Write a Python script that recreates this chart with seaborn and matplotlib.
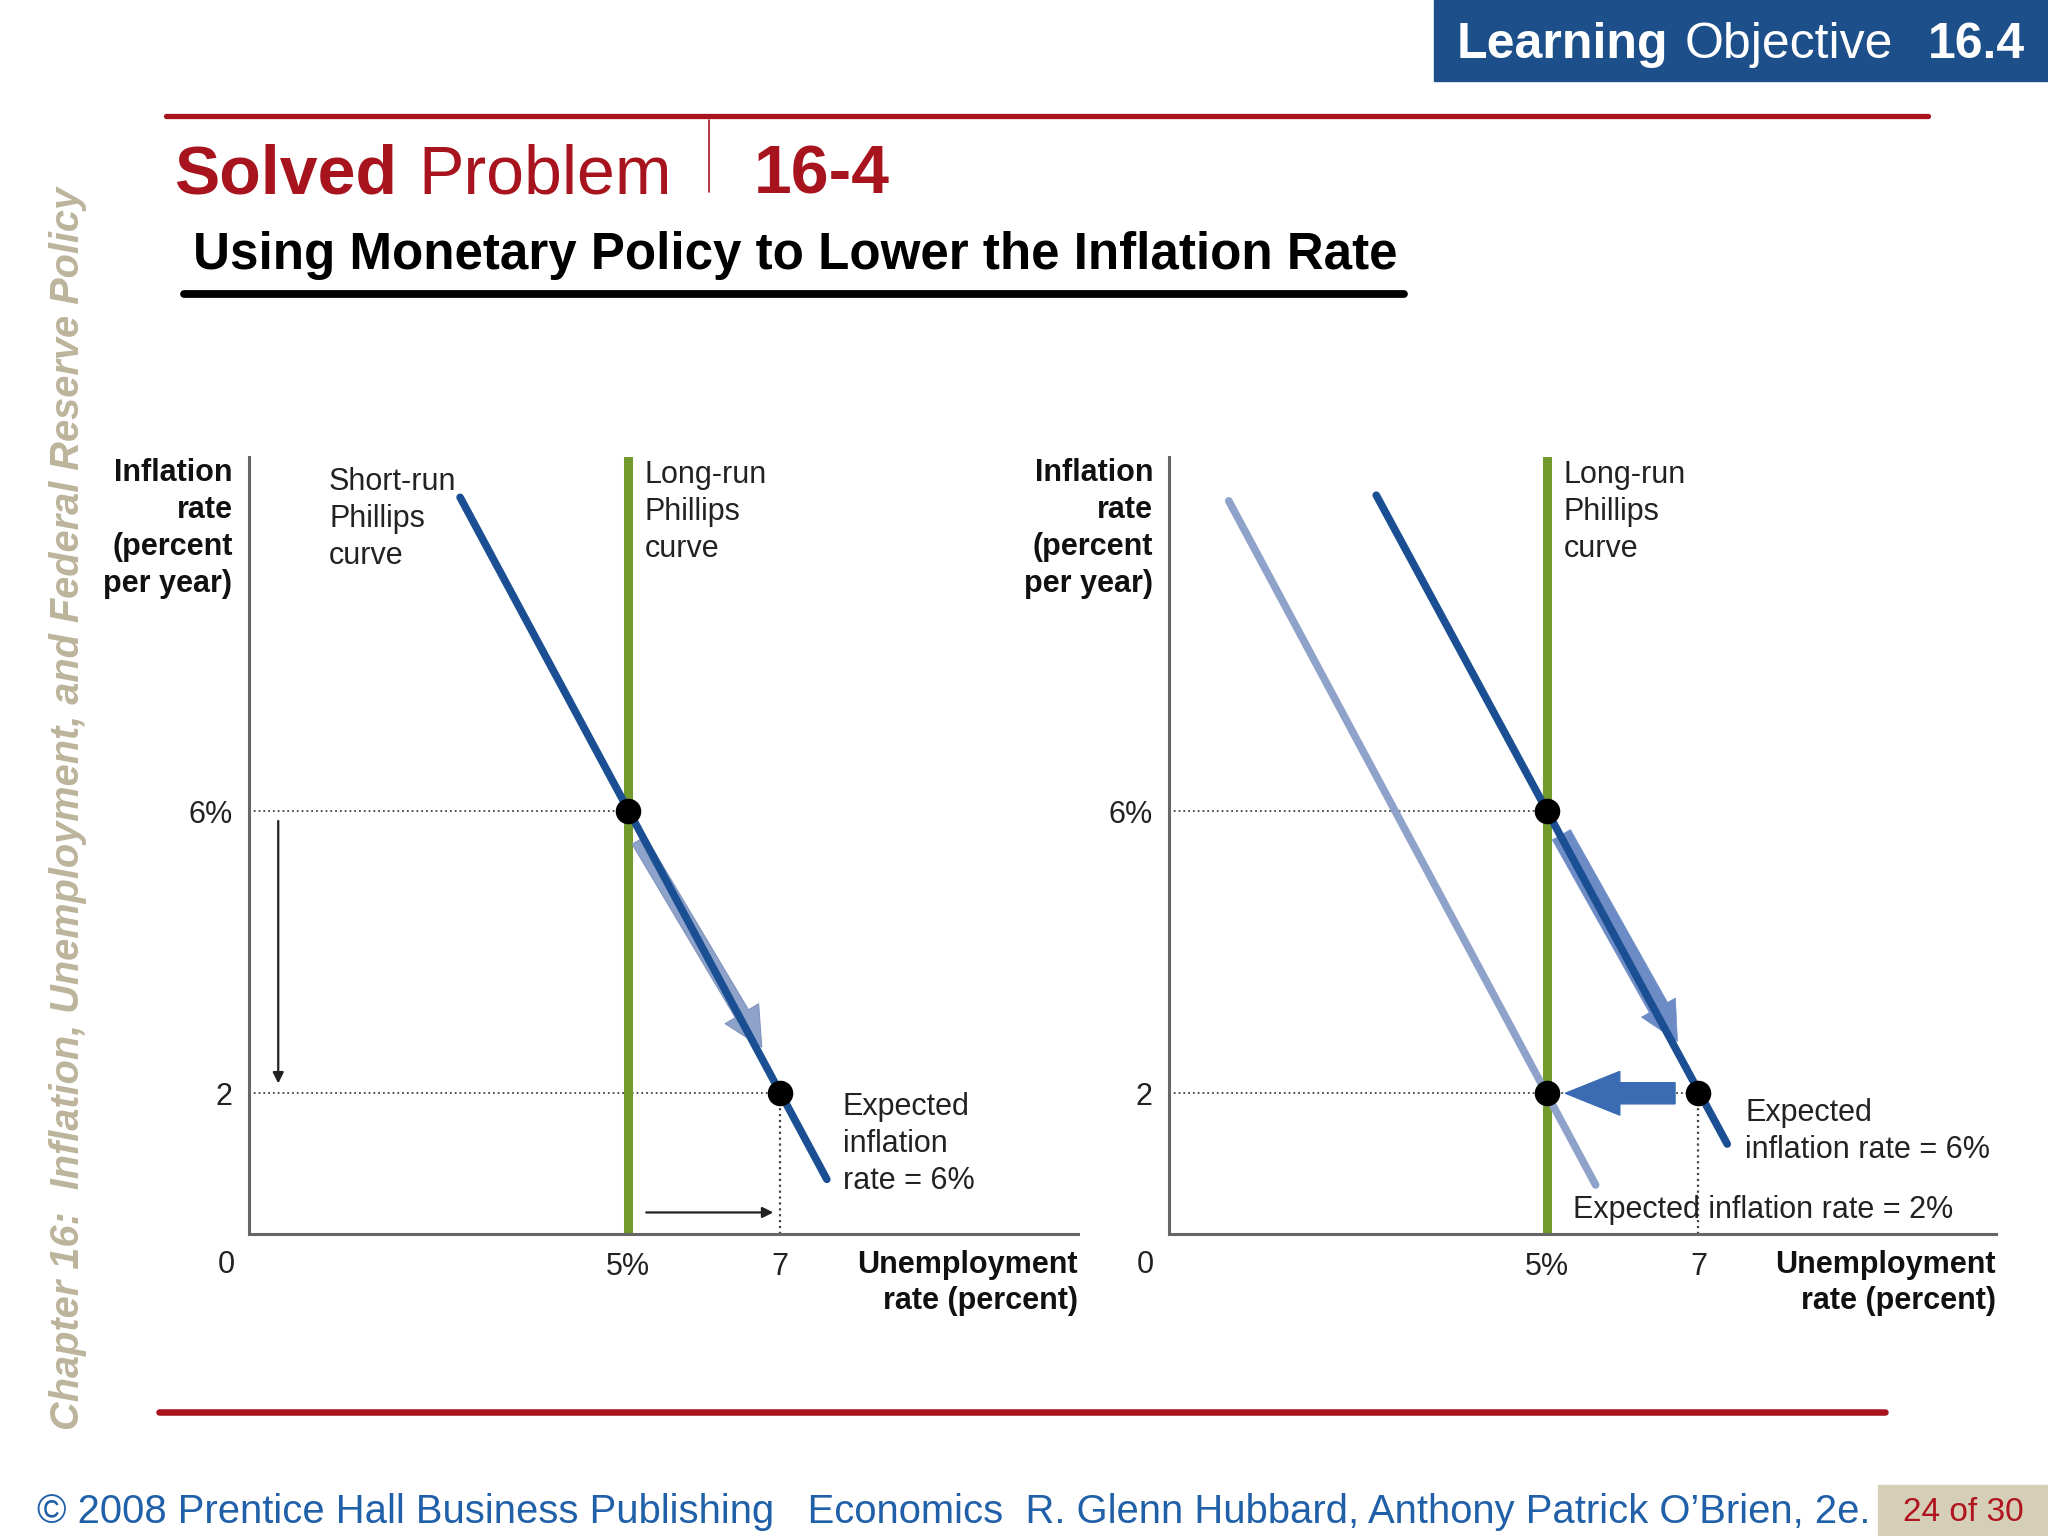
import numpy as np
import pandas as pd
import seaborn as sns
import matplotlib.pyplot as plt
from matplotlib.patches import FancyArrow, Rectangle

sns.set_style("white")
plt.rcParams['font.family'] = ['Liberation Sans', 'DejaVu Sans']

# ---- data (unemployment %, inflation %) ----
srpc6_left_u = [2.78, 7.62]        # short-run curve, expected inflation 6%
srpc6_left_pi = [10.45, 0.78]
srpc6_right_u = [2.74, 7.38]
srpc6_right_pi = [10.48, 1.28]
srpc2_u = [0.79, 5.64]             # short-run curve, expected inflation 2%
srpc2_pi = [10.40, 0.70]
lrpc_u = 5                         # natural rate
left_pts_u = [5, 7]
left_pts_pi = [6, 2]
right_pts_u = [5, 7, 5]
right_pts_pi = [6, 2, 2]
x_ticks = [5, 7]
x_ticklabels = ["5%", "7"]
y_ticks = [2, 6]
y_ticklabels = ["2", "6%"]

DARK = "#1b4f93"
LIGHT = "#8fa3ca"
GREEN = "#739a2c"
AXC = "#666666"
FS = 22
LS = 1.3

fig = plt.figure(figsize=(20.48, 15.36), dpi=100)

def panel(rect):
    ax = fig.add_axes(rect)
    ax.set_xlim(0, 10.93)
    ax.set_ylim(0, 11.02)
    for s in ["top", "right"]:
        ax.spines[s].set_visible(False)
    for s in ["left", "bottom"]:
        ax.spines[s].set_color(AXC)
        ax.spines[s].set_linewidth(2.2)
    ax.set_xticks(x_ticks, x_ticklabels)
    ax.set_yticks(y_ticks, y_ticklabels)
    ax.tick_params(length=0, labelsize=FS, colors="#222222")
    ax.tick_params(axis="x", pad=13)
    ax.tick_params(axis="y", pad=12)
    ax.text(-0.31, -0.43, "0", fontsize=FS, ha="center", va="center",
            color="#222222", clip_on=False)
    ax.axvline(lrpc_u, color=GREEN, lw=6.5, zorder=2)
    # dotted guides
    ax.plot([0, 5], [6, 6], ls=":", color="#444444", lw=1.3, zorder=1)
    ax.plot([0, 7], [2, 2], ls=":", color="#444444", lw=1.3, zorder=1)
    ax.plot([7, 7], [0, 2], ls=":", color="#444444", lw=1.6, zorder=1)
    ax.text(5.22, 10.98, "Long-run\nPhillips\ncurve", fontsize=FS, va="top",
            color="#222222", linespacing=LS)
    return ax

# ---------------- left panel ----------------
axL = panel([0.1218, 0.1964, 0.4044, 0.5060])
sns.lineplot(x=srpc6_left_u, y=srpc6_left_pi, ax=axL, color=DARK, lw=5.5,
             zorder=4, sort=False, estimator=None)
axL.annotate("", xy=(6.78, 2.62), xytext=(5.12, 5.62),
             arrowprops=dict(arrowstyle="simple,head_length=1.4,head_width=1.4,tail_width=0.55",
                             fc=LIGHT, ec="#7f93bd", lw=0.8, mutation_scale=20), zorder=3)
sns.scatterplot(x=left_pts_u, y=left_pts_pi, ax=axL, color="black", s=290,
                zorder=6, edgecolor="black")
axL.annotate("", xy=(0.38, 2.1), xytext=(0.38, 5.9),
             arrowprops=dict(arrowstyle="-|>", color="#222222", lw=1.6,
                             mutation_scale=16))
axL.annotate("", xy=(6.95, 0.31), xytext=(5.2, 0.31),
             arrowprops=dict(arrowstyle="-|>", color="#222222", lw=1.6,
                             mutation_scale=16))
axL.text(1.05, 10.88, "Short-run\nPhillips\ncurve", fontsize=FS, va="top",
         color="#222222", linespacing=LS)
axL.text(7.83, 2.02, "Expected\ninflation\nrate = 6%", fontsize=FS, va="top",
         color="#222222", linespacing=LS)

# ---------------- right panel ----------------
axR = panel([0.5708, 0.1964, 0.4037, 0.5060])
sns.lineplot(x=srpc2_u, y=srpc2_pi, ax=axR, color=LIGHT, lw=5.5, zorder=3,
             sort=False, estimator=None)
sns.lineplot(x=srpc6_right_u, y=srpc6_right_pi, ax=axR, color=DARK, lw=5.5,
             zorder=4, sort=False, estimator=None)
axR.annotate("", xy=(6.74, 2.7), xytext=(5.17, 5.7),
             arrowprops=dict(arrowstyle="simple,head_length=1.4,head_width=1.4,tail_width=0.75",
                             fc="#6d8cc6", ec="#6d8cc6", lw=0.5, mutation_scale=20), zorder=3)
axR.add_patch(FancyArrow(6.69, 2.0, -1.45, 0, width=0.3, head_width=0.62,
                         head_length=0.72, length_includes_head=True,
                         fc="#3b6cb3", ec="#3b6cb3", zorder=5))
sns.scatterplot(x=right_pts_u, y=right_pts_pi, ax=axR, color="black", s=290,
                zorder=6, edgecolor="black")
axR.text(7.62, 1.93, "Expected\ninflation rate = 6%", fontsize=FS, va="top",
         color="#222222", linespacing=LS)
axR.text(5.34, 0.35, "Expected inflation rate = 2%", fontsize=FS, va="center",
         color="#222222", zorder=7)

# axis titles
for xr, xl in [(0.1135, 0.5262), (0.5631, 0.9745)]:
    fig.text(xr, 0.7015, "Inflation\nrate\n(percent\nper year)", ha="right",
             va="top", fontsize=FS, fontweight="bold", color="#111111",
             linespacing=LS)
    fig.text(xl, 0.1865, "Unemployment\nrate (percent)", ha="right", va="top",
             fontsize=FS, fontweight="bold", color="#111111", linespacing=LS)

# ---------------- slide decoration ----------------
RED = "#a8141e"
fig.patches.append(Rectangle((0.7003, 0.9473), 0.2997, 0.0527,
                             transform=fig.transFigure, color="#1d4f8a"))
fig.text(0.711, 0.9705, "Learning", fontsize=36, fontweight="bold",
         color="white", va="center")
fig.text(0.8227, 0.9705, "Objective", fontsize=36, color="white", va="center")
fig.text(0.9413, 0.9705, "16.4", fontsize=36, fontweight="bold",
         color="white", va="center")

fig.add_artist(plt.Line2D([0.081, 0.9413], [0.9243, 0.9243], color=RED, lw=3.8))
fig.add_artist(plt.Line2D([0.3463, 0.3463], [0.875, 0.9218], color=RED, lw=1.2))
fig.text(0.0848, 0.8741, "Solved", fontsize=49, fontweight="bold", color=RED,
         va="baseline")
fig.text(0.2041, 0.8741, "Problem", fontsize=49, color=RED, va="baseline")
fig.text(0.368, 0.8741, "16-4", fontsize=49, fontweight="bold", color=RED,
         va="baseline")

fig.text(0.0944, 0.8248, "Using Monetary Policy to Lower the Inflation Rate",
         fontsize=36.8, fontweight="bold", color="black", va="baseline")
fig.add_artist(plt.Line2D([0.0899, 0.6856], [0.8087, 0.8087], color="black", lw=5.6))

fig.text(0.0332, 0.0689,
         "Chapter 16:  Inflation, Unemployment, and Federal Reserve Policy",
         rotation=90, ha="center", va="bottom", fontsize=28.6, fontweight="bold",
         fontstyle="italic", color="#bcb49b")

fig.add_artist(plt.Line2D([0.0778, 0.9203], [0.0808, 0.0808], color=RED, lw=4.7))
fig.text(0.0179, 0.0153,
         "\u00a9 2008 Prentice Hall Business Publishing   Economics  R. Glenn Hubbard, Anthony Patrick O\u2019Brien, 2e.",
         fontsize=28.8, color="#2060a8", va="center")
fig.patches.append(Rectangle((0.9171, 0.0), 0.0829, 0.0332,
                             transform=fig.transFigure, color="#d6cfb8"))
fig.text(0.9586, 0.0153, "24 of 30", fontsize=24, color="#b0141e",
         ha="center", va="center")

fig.savefig("out.png", dpi=100)
